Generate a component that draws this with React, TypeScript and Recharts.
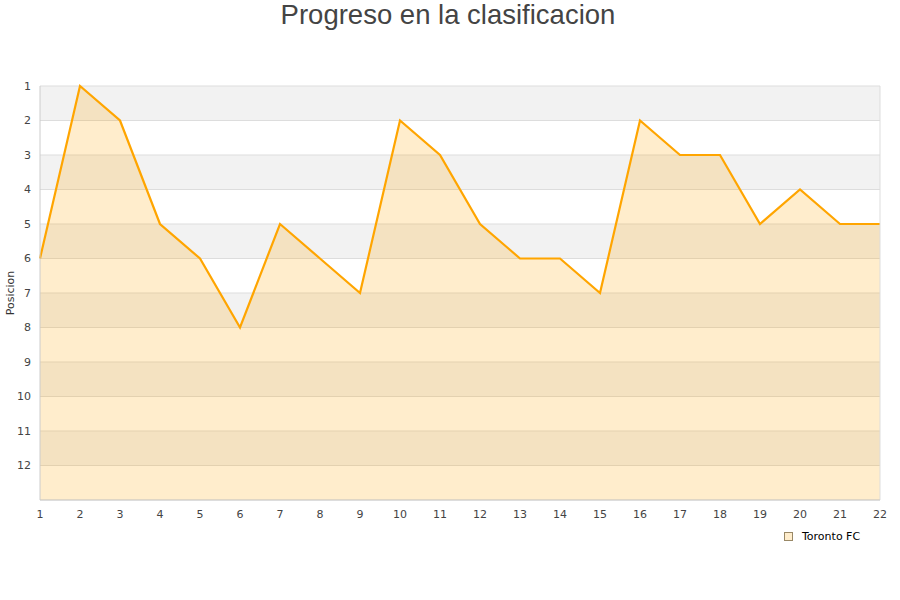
import { AreaChart, Area, XAxis, YAxis, CartesianGrid, ReferenceLine } from "recharts"

const jornadas = [1, 2, 3, 4, 5, 6, 7, 8, 9, 10, 11, 12, 13, 14, 15, 16, 17, 18, 19, 20, 21, 22]
const torontoPos = [6, 1, 2, 5, 6, 8, 5, 6, 7, 2, 3, 5, 6, 6, 7, 2, 3, 3, 5, 4, 5, 5]
const posTicks = [1, 2, 3, 4, 5, 6, 7, 8, 9, 10, 11, 12]
const gridValues = [1, 2, 3, 4, 5, 6, 7, 8, 9, 10, 11, 12, 13]

const data = jornadas.map((j, i) => ({ jornada: j, pos: torontoPos[i] }))

const tickStyle = { fontSize: 11, fill: "#444", fontFamily: "DejaVu Sans" }

export default function App() {
  return (
    <div style={{ position: "absolute", left: 0, top: 0, width: 900, height: 600, background: "#fff" }}>
      <div
        style={{
          position: "absolute",
          top: -1,
          left: 0,
          width: 896,
          textAlign: "center",
          fontFamily: "Liberation Sans, Arial, sans-serif",
          fontSize: 27.5,
          color: "#444",
          lineHeight: "32px",
        }}
      >
        Progreso en la clasificacion
      </div>
      <div
        style={{
          position: "absolute",
          left: 10,
          top: 293,
          transform: "translate(-50%, -50%) rotate(-90deg)",
          fontFamily: "DejaVu Sans",
          fontSize: 11,
          color: "#333",
          whiteSpace: "nowrap",
        }}
      >
        Posicion
      </div>
      <AreaChart
        width={900}
        height={600}
        data={data}
        margin={{ top: 86, right: 20, left: 0, bottom: 70 }}
      >
        <CartesianGrid
          vertical={false}
          stroke="#dddddd"
          horizontalValues={gridValues}
          horizontalFill={["#f2f2f2", "#ffffff"]}
          fillOpacity={1}
        />
        <XAxis
          dataKey="jornada"
          type="number"
          domain={[1, 22]}
          ticks={jornadas}
          interval={0}
          height={30}
          tickLine={false}
          tickMargin={4}
          axisLine={{ stroke: "#cccccc" }}
          tick={tickStyle}
        />
        <YAxis
          type="number"
          domain={[1, 13]}
          reversed
          ticks={posTicks}
          interval={0}
          width={40}
          tickLine={false}
          tickMargin={3}
          axisLine={{ stroke: "#cccccc" }}
          tick={tickStyle}
        />
        <ReferenceLine x={22} stroke="#dddddd" />
        <Area
          type="linear"
          dataKey="pos"
          baseValue={13}
          stroke="#FFA500"
          strokeWidth={2.2}
          fill="#FFA500"
          fillOpacity={0.2}
          dot={false}
          activeDot={false}
          isAnimationActive={false}
        />
      </AreaChart>
      <div
        style={{
          position: "absolute",
          left: 784,
          top: 530,
          display: "flex",
          alignItems: "center",
          fontFamily: "DejaVu Sans",
          fontSize: 11,
          color: "#000",
        }}
      >
        <span
          style={{
            display: "inline-block",
            width: 7,
            height: 7,
            background: "#FFEDCC",
            border: "1px solid #998866",
            marginRight: 9,
          }}
        />
        Toronto FC
      </div>
    </div>
  )
}
